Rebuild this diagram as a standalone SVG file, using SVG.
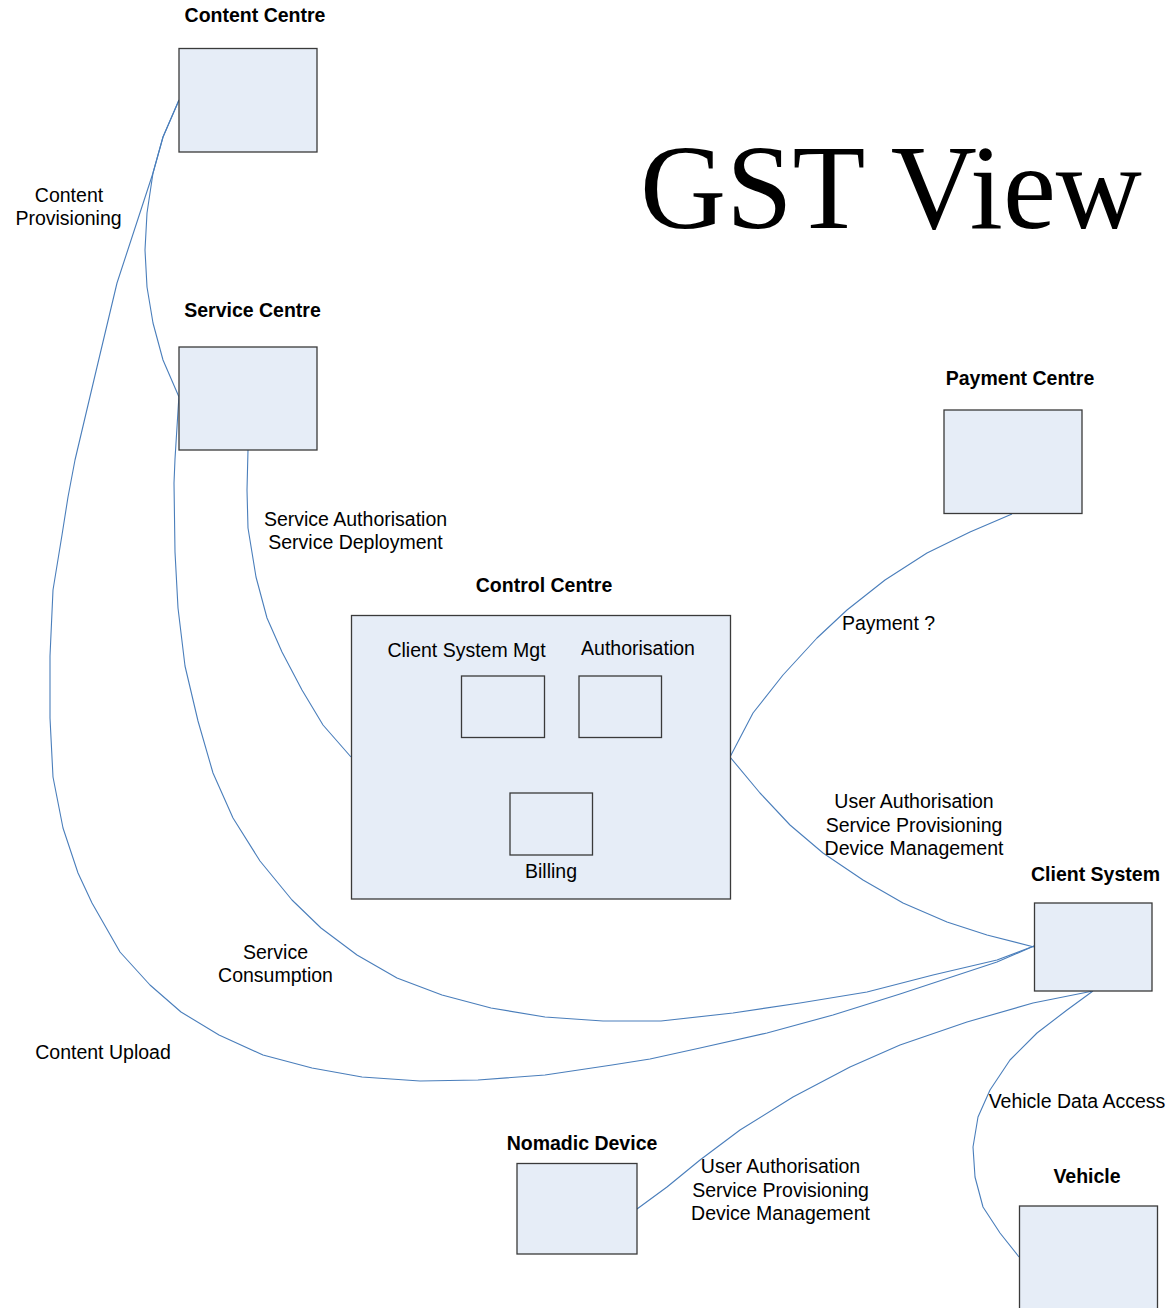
<svg xmlns="http://www.w3.org/2000/svg" width="1172" height="1308" viewBox="0 0 1172 1308">
<style>
.box{fill:#e6edf7;stroke:#3a3a3a;stroke-width:1.3}
.lbl{font-family:"Liberation Sans",Arial,sans-serif;font-size:19.5px;fill:#000;text-anchor:middle}
.b{font-weight:bold}
.conn{fill:none;stroke:#4a7ebb;stroke-width:1.1;stroke-linejoin:round}
.title{font-family:"Liberation Serif","Times New Roman",serif;font-size:121px;fill:#000}
</style>
<rect width="1172" height="1308" fill="#fff"/>
<text class="title" x="640" y="228" textLength="502" lengthAdjust="spacingAndGlyphs">GST View</text>
<g id="connectors">
<path class="conn" d="M179,100 L163,137 L153,173 L147,213 L145,250 L147,287 L153,323 L163,360 L179,397"/>
<path class="conn" d="M179,100 L163,137 L153,173 L135,228 L117,283 L97,367 L75,460 L68,497 L62,535 L53,590 L50,656 L50,718 L53,777 L63,828 L78,873 L92,903 L120,952 L150,985 L181,1012 L219,1035 L263,1055 L312,1068 L362,1077 L420,1081 L478,1080 L545,1075 L612,1065 L650,1059 L700,1048 L767,1033 L833,1015 L900,994 L997,962 L1034,946"/>
<path class="conn" d="M179,395 L175,459 L174,483 L175,552 L178,608 L185,666 L198,721 L213,773 L233,818 L260,861 L292,900 L321,928 L357,955 L397,978 L442,995 L491,1008 L545,1017 L603,1021 L661,1021 L733,1013 L800,1003 L867,992 L933,975 L997,960 L1034,946"/>
<path class="conn" d="M248,450 L247,490 L248,528 L256,577 L267,618 L282,652 L302,690 L323,725 L351,757"/>
<path class="conn" d="M730,757 L753,713 L783,675 L817,638 L847,610 L885,580 L927,553 L970,532 L1012,514"/>
<path class="conn" d="M730,757 L760,793 L790,825 L823,853 L863,880 L903,903 L947,922 L987,935 L1034,947"/>
<path class="conn" d="M1093,991 L1033,1003 L967,1022 L900,1045 L850,1067 L793,1097 L740,1130 L700,1160 L667,1187 L637,1209"/>
<path class="conn" d="M1093,991 L1067,1010 L1037,1033 L1010,1060 L990,1090 L978,1117 L973,1147 L975,1177 L983,1207 L1000,1233 L1019,1257"/>
</g>
<g id="content-centre">
<rect class="box" x="179" y="48.5" width="138" height="103.5"/>
<text class="lbl b" x="255" y="22">Content Centre</text>
</g>
<g id="service-centre">
<rect class="box" x="179" y="347" width="138" height="103"/>
<text class="lbl b" x="252.5" y="317">Service Centre</text>
</g>
<g id="payment-centre">
<rect class="box" x="944" y="410" width="138" height="103.5"/>
<text class="lbl b" x="1020" y="385">Payment Centre</text>
</g>
<g id="control-centre">
<rect class="box" x="351.5" y="615.5" width="379" height="283.5"/>
<text class="lbl b" x="544" y="592">Control Centre</text>
<g id="client-system-mgt">
<rect class="box" x="461.5" y="676" width="83" height="61.5"/>
<text class="lbl" x="466.5" y="657">Client System Mgt</text>
</g>
<g id="authorisation">
<rect class="box" x="579" y="676" width="82.5" height="61.5"/>
<text class="lbl" x="638" y="655">Authorisation</text>
</g>
<g id="billing">
<rect class="box" x="510" y="793" width="82.5" height="62"/>
<text class="lbl" x="551" y="878">Billing</text>
</g>
</g>
<g id="client-system">
<rect class="box" x="1034.5" y="903" width="117.5" height="88"/>
<text class="lbl b" x="1095.5" y="881">Client System</text>
</g>
<g id="nomadic-device">
<rect class="box" x="517" y="1163.5" width="120" height="90.5"/>
<text class="lbl b" x="582" y="1150">Nomadic Device</text>
</g>
<g id="vehicle">
<rect class="box" x="1019.5" y="1206" width="138" height="104"/>
<text class="lbl b" x="1087" y="1183">Vehicle</text>
</g>
<g id="connector-labels">
<text class="lbl" x="69" y="201.5">Content</text>
<text class="lbl" x="68.5" y="225">Provisioning</text>
<text class="lbl" x="355.5" y="526">Service Authorisation</text>
<text class="lbl" x="355.5" y="549">Service Deployment</text>
<text class="lbl" x="888.5" y="630">Payment ?</text>
<text class="lbl" x="914" y="808">User Authorisation</text>
<text class="lbl" x="914" y="832">Service Provisioning</text>
<text class="lbl" x="914" y="855">Device Management</text>
<text class="lbl" x="275.5" y="959">Service</text>
<text class="lbl" x="275.5" y="982">Consumption</text>
<text class="lbl" x="103" y="1059">Content Upload</text>
<text class="lbl" x="780.5" y="1173">User Authorisation</text>
<text class="lbl" x="780.5" y="1197">Service Provisioning</text>
<text class="lbl" x="780.5" y="1220">Device Management</text>
<text class="lbl" x="1077" y="1108">Vehicle Data Access</text>
</g>
</svg>
